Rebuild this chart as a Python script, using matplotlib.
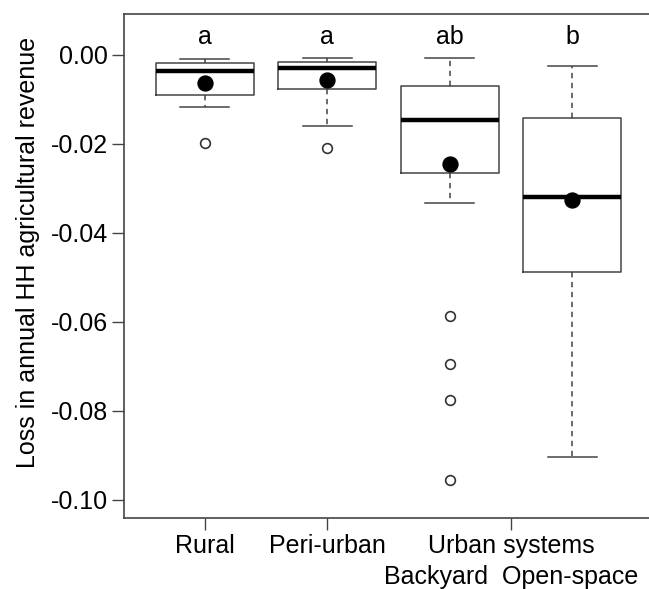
import matplotlib
matplotlib.use("Agg")
import matplotlib.pyplot as plt

plt.rcParams["font.family"] = ["Liberation Sans", "DejaVu Sans"]

# values (box stats per group)
groups = ["Rural", "Peri-urban", "Backyard", "Open-space"]
whisker_hi = [-0.0010, -0.0007, -0.0008, -0.0024]
q3 = [-0.0019, -0.0016, -0.0071, -0.0141]
medians = [-0.0037, -0.0029, -0.0147, -0.0319]
q1 = [-0.0091, -0.0076, -0.0266, -0.0488]
whisker_lo = [-0.0117, -0.0160, -0.0332, -0.0905]
means = [-0.0063, -0.0057, -0.0246, -0.0327]
outliers = [[-0.0198], [-0.0209], [-0.0587, -0.0695, -0.0777, -0.0956], []]
letters = ["a", "a", "ab", "b"]

yticks = [0.00, -0.02, -0.04, -0.06, -0.08, -0.10]
ytick_labels = ["0.00", "-0.02", "-0.04", "-0.06", "-0.08", "-0.10"]

edge = "#444444"
fs = 18

fig = plt.figure(figsize=(6.49, 5.89), dpi=100)
ax = fig.add_axes([124 / 649, 1 - 518.3 / 589, 529 / 649, (518.3 - 14) / 589])

stats = []
for i, name in enumerate(groups):
    stats.append({
        "label": name,
        "whislo": whisker_lo[i], "q1": q1[i], "med": medians[i],
        "q3": q3[i], "whishi": whisker_hi[i], "fliers": outliers[i],
    })

pos = [1, 2, 3, 4]
ax.bxp(stats, positions=pos, widths=0.8, showfliers=True, patch_artist=False,
       boxprops=dict(color=edge, linewidth=1.1),
       medianprops=dict(color="black", linewidth=3.2, solid_capstyle="butt"),
       whiskerprops=dict(color=edge, linewidth=1.1, linestyle=(0, (3.5, 3))),
       capprops=dict(color=edge, linewidth=1.1),
       capwidths=0.4,
       flierprops=dict(marker="o", markersize=7, markerfacecolor="white",
                       markeredgecolor="#333333", markeredgewidth=1.2))

ax.scatter(pos, means, s=115, color="black", zorder=5)

for p, lab in zip(pos, letters):
    ax.text(p, 0.0040, lab, ha="center", va="center", fontsize=fs)

ax.set_xlim(0.34, 4.66)
ax.set_ylim(-0.1042, 0.0092)

ax.set_yticks(yticks)
ax.set_yticklabels(ytick_labels, fontsize=fs)
ax.set_xticks([1, 2, 3.5])
ax.set_xticklabels(["Rural", "Peri-urban", "Urban systems"], fontsize=fs)
ax.tick_params(axis="both", length=8.5, width=1, color=edge, pad=3)

# second line under the urban tick
ax.annotate("Backyard  Open-space", xy=(3.5, 0), xycoords=("data", "axes fraction"),
            xytext=(0, -42), textcoords="offset points",
            ha="center", va="center", fontsize=fs)

ax.set_ylabel("Loss in annual HH agricultural revenue", fontsize=fs)
ax.yaxis.set_label_coords(-0.158, 0.528)

for side in ["left", "top", "bottom", "right"]:
    ax.spines[side].set_color(edge)
    ax.spines[side].set_linewidth(1.2)

fig.savefig("out.png", dpi=100)
